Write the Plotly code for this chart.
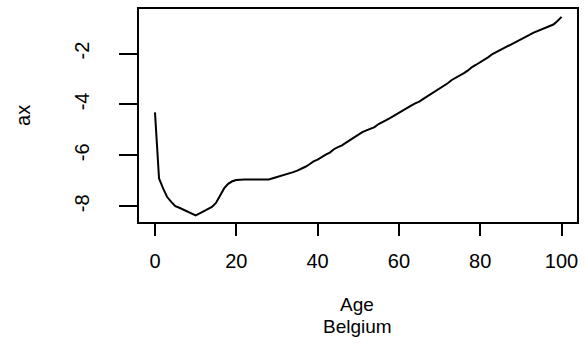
import plotly.graph_objects as go

ages = list(range(0, 101))
ax = [
    -4.31, -6.91, -7.30, -7.64, -7.83, -8.00, -8.06, -8.13, -8.19, -8.28,
    -8.36, -8.28, -8.19, -8.12, -8.03, -7.87, -7.57, -7.30, -7.12, -7.02,
    -6.97, -6.95, -6.95, -6.95, -6.95, -6.95, -6.95, -6.95, -6.95, -6.90,
    -6.85, -6.83, -6.78, -6.72, -6.66, -6.60, -6.53, -6.45, -6.35, -6.24,
    -6.17, -6.06, -5.97, -5.89, -5.76, -5.68, -5.61, -5.50, -5.39, -5.28,
    -5.17, -5.09, -5.02, -4.95, -4.89, -4.77, -4.70, -4.61, -4.52, -4.42,
    -4.33, -4.24, -4.14, -4.05, -3.96, -3.89, -3.78, -3.68, -3.58, -3.47,
    -3.37, -3.29, -3.17, -3.04, -2.96, -2.88, -2.77, -2.66, -2.53, -2.44,
    -2.35, -2.25, -2.14, -2.02, -1.94, -1.85, -1.76, -1.67, -1.60, -1.52,
    -1.45, -1.37, -1.28, -1.19, -1.13, -1.07, -1.01, -0.94, -0.86, -0.72,
    -0.56,
]
x_ticks = [0, 20, 40, 60, 80, 100]
y_ticks = [-8, -6, -4, -2]
x_title = "Age"
sub_title = "Belgium"
y_title = "ax"

FONT = "Liberation Sans, Arial, sans-serif"
FS = 20

fig = go.Figure()
fig.add_trace(go.Scatter(x=ages, y=ax, mode="lines",
                         line=dict(color="black", width=2), showlegend=False))

L, R, T, B = 139, 10, 7, 123
W, H = 587, 345
pw, ph = W - L - R, H - T - B

fig.update_layout(
    width=W, height=H,
    margin=dict(l=L, r=R, t=T, b=B),
    paper_bgcolor="white", plot_bgcolor="white",
    font=dict(family=FONT, size=FS, color="black"),
    xaxis=dict(range=[-3.93, 103.8], tickvals=x_ticks, ticktext=[str(v) for v in x_ticks],
               showgrid=False, zeroline=False, showline=True, mirror=True,
               linecolor="black", linewidth=2, ticks="outside", ticklen=12,
               tickwidth=2, tickcolor="black", ticklabelstandoff=8),
    yaxis=dict(range=[-8.62, -0.25], tickvals=y_ticks, ticktext=[str(v) for v in y_ticks],
               showgrid=False, zeroline=False, showline=True, mirror=True,
               linecolor="black", linewidth=2, ticks="outside", ticklen=18,
               tickwidth=2, tickcolor="black", tickangle=-90, ticklabelstandoff=22),
)

def px(xp):
    return (xp - L) / pw

def py(yp):
    return (H - B - yp) / ph

fig.add_annotation(text=y_title, x=px(23), y=py(115), xref="paper", yref="paper",
                   showarrow=False, textangle=-90, font=dict(size=FS),
                   xanchor="center", yanchor="middle")
fig.add_annotation(text=x_title, x=px(357), y=py(305), xref="paper", yref="paper",
                   showarrow=False, font=dict(size=19), xanchor="center", yanchor="middle")
fig.add_annotation(text=sub_title, x=px(357), y=py(327), xref="paper", yref="paper",
                   showarrow=False, font=dict(size=19), xanchor="center", yanchor="middle")

fig.write_html("out.html")
